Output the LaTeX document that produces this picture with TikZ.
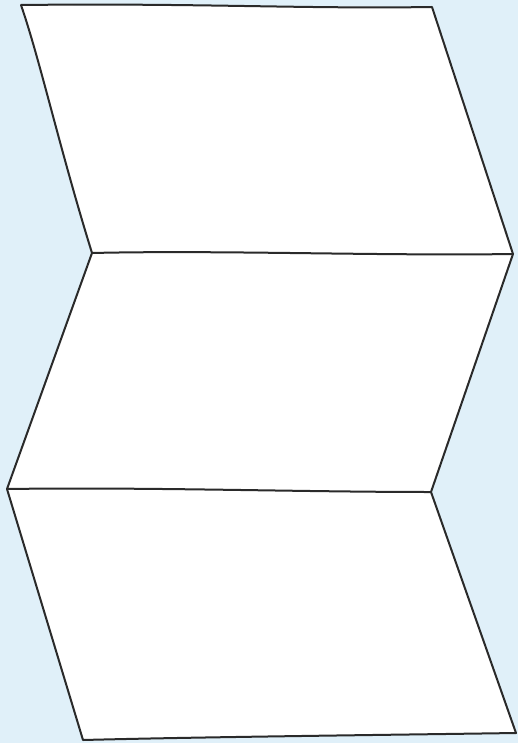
\documentclass[tikz,border=0pt]{standalone}
\definecolor{bgblue}{HTML}{E0F0F9}
\definecolor{inkgray}{HTML}{2A2A2A}
\tikzset{fold/.style={draw=inkgray, line width=2pt, line join=round, line cap=round}}
\begin{document}
\begin{tikzpicture}[x=1pt,y=-1pt]
\fill[bgblue] (0,0) rectangle (518,743);
\useasboundingbox (0,0) rectangle (518,743);
\coordinate (tl) at (21,5);
\coordinate (tr) at (432,7);
\coordinate (mlu) at (92,253);
\coordinate (mru) at (513,254);
\coordinate (mll) at (7,489);
\coordinate (mrl) at (431,492);
\coordinate (bl) at (83,740);
\coordinate (br) at (516,733);
\fill[white] (tl) -- (tr) -- (mru) -- (mrl) -- (br) -- (bl) -- (mll) -- (mlu) -- cycle;
\draw[fold] (tl) .. controls (200,3) and (300,9) .. (tr) -- (mru) -- (mrl) -- (br)
  .. controls (380,735) and (200,737) .. (bl) -- (mll) -- (mlu) .. controls (60,150) and (40,60) .. (tl);
\draw[fold] (mlu) .. controls (220,250) and (380,256) .. (mru);
\draw[fold] (mll) .. controls (150,487) and (300,492) .. (mrl);
\end{tikzpicture}
\end{document}
